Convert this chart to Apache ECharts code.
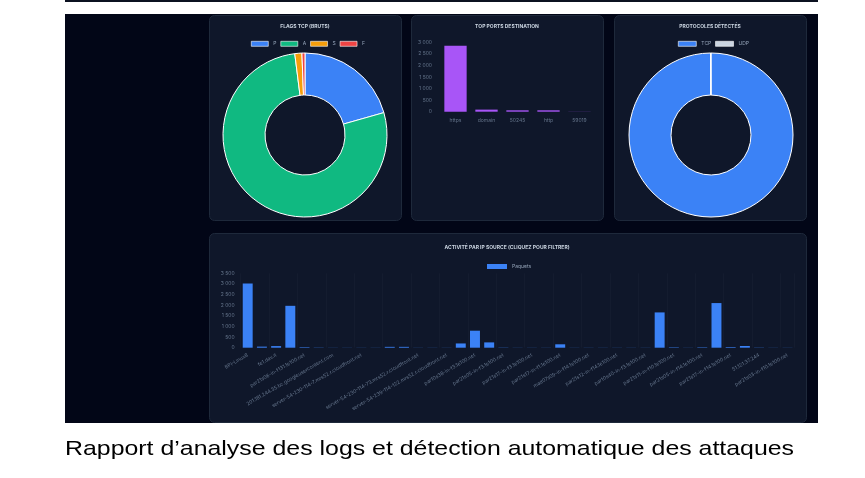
<!DOCTYPE html>
<html>
<head>
<meta charset="utf-8">
<script src="https://cdn.jsdelivr.net/npm/echarts@6/dist/echarts.min.js"></script>
<style>
    html, body { margin: 0; padding: 0; background: #fff; }
    #chart { width: 865px; height: 478px; }
</style>
</head>
<body>
<div id="chart"></div>
<script>
    const flagNames = ['P', 'A', 'S', 'F'];
    const flagValues = [620, 2330, 42, 18];
    const flagColors = ['#3b82f6', '#10b981', '#f59e0b', '#ef4444'];

    const portNames = ['https', 'domain', '50245', 'http', '59019'];
    const portValues = [2850, 90, 60, 60, 5];

    const protoNames = ['TCP', 'UDP'];
    const protoValues = [3005, 3];
    const protoColors = ['#3b82f6', '#cbd5e1'];

    const ipNames = [
        'BPI-Linux8', '192.168.1.1', 'fe1.dav.it', '192.168.1.254',
        'par21s06-in-f131.1e100.net', 'par21s06-in-f3.1e100.net',
        '201.181.244.35.bc.googleusercontent.com', '34.107.243.93',
        'server-54-230-114-7.mrs52.r.cloudfront.net', 'server-54-230-114-50.mrs52.r.cloudfront.net',
        '', 'server-54-230-114-12.mrs52.r.cloudfront.net',
        'server-54-230-114-73.mrs52.r.cloudfront.net', 'server-54-230-114-95.mrs52.r.cloudfront.net',
        'server-54-239-114-122.mrs52.r.cloudfront.net', 'par10s38-in-f14.1e100.net',
        'par10s38-in-f3.1e100.net', 'par21s05-in-f10.1e100.net',
        'par21s05-in-f3.1e100.net', 'par21s17-in-f10.1e100.net',
        'par21s17-in-f3.1e100.net', 'par21s12-in-f3.1e100.net',
        'par21s17-in-f1.1e100.net', 'mad07s09-in-f3.1e100.net',
        'mad07s09-in-f14.1e100.net', 'par21s12-in-f10.1e100.net',
        'par21s12-in-f14.1e100.net', 'par10s40-in-f14.1e100.net',
        'par10s40-in-f3.1e100.net', 'par21s11-in-f14.1e100.net',
        'par21s11-in-f10.1e100.net', 'par21s05-in-f1.1e100.net',
        'par21s05-in-f14.1e100.net', 'par21s17-in-f4.1e100.net',
        'par21s17-in-f14.1e100.net', '51.121.37.242',
        '51.121.37.244', 'par21s03-in-f14.1e100.net',
        'par21s03-in-f10.1e100.net'
    ];
    const ipValues = [
        3020, 50, 75, 1970, 25, 10, 5, 5, 5, 5,
        40, 40, 5, 5, 5, 200, 800, 250, 10, 5,
        5, 5, 160, 5, 5, 5, 5, 5, 5, 1660,
        20, 5, 20, 2100, 30, 80, 10, 5, 5
    ];

    const caption = 'Rapport d’analyse des logs et détection automatique des attaques';

    const FONT = 'Inter, "Liberation Sans", sans-serif';
    const frNum = function (v) { return String(v).replace(/\B(?=(\d{3})+(?!\d))/g, ' '); };

    function panel (x, y, w, h) {
        return {
            type: 'rect', z: -10,
            shape: { x: x, y: y, width: w, height: h, r: 5 },
            style: { fill: '#0f172a', stroke: '#1e293b', lineWidth: 1 }
        };
    }

    const legendText = { color: '#94a3b8', fontSize: 5, fontFamily: FONT };
    const titleText = { color: '#cbd5e1', fontSize: 5, fontWeight: 'bold', fontFamily: FONT };
    const axisText = { color: '#64748b', fontSize: 5, fontFamily: FONT };

    const option = {
        animation: false,
        graphic: [
            { type: 'rect', z: -20, shape: { x: 65, y: 0, width: 753, height: 2 }, style: { fill: '#0b1120' } },
            { type: 'rect', z: -20, shape: { x: 65, y: 14, width: 753, height: 409 }, style: { fill: '#020617' } },
            panel(209.5, 15.5, 192, 205),
            panel(411.5, 15.5, 192, 205),
            panel(614.5, 15.5, 192, 205),
            panel(209.5, 233.5, 597, 189),
            {
                type: 'text', z: 10, x: 65, y: 449, scaleX: 1.185,
                style: { text: caption, fill: '#000', font: '21px "Liberation Sans", Arial, sans-serif', textVerticalAlign: 'middle' }
            }
        ],
        title: [
            { text: 'FLAGS TCP (BRUTS)', left: 305, top: 24, padding: 0, textAlign: 'center', textStyle: titleText },
            { text: 'TOP PORTS DESTINATION', left: 507, top: 24, padding: 0, textAlign: 'center', textStyle: titleText },
            { text: 'PROTOCOLES DÉTECTÉS', left: 710, top: 24, padding: 0, textAlign: 'center', textStyle: titleText },
            { text: 'ACTIVITÉ PAR IP SOURCE (CLIQUEZ POUR FILTRER)', left: 507, top: 245, padding: 0, textAlign: 'center', textStyle: titleText }
        ],
        legend: [
            {
                data: flagNames, left: 251, top: 41, padding: 0, itemWidth: 17, itemHeight: 5, itemGap: 4,
                icon: 'rect', textStyle: legendText, itemStyle: { borderColor: '#fff', borderWidth: 0.6 }
            },
            {
                data: protoNames, left: 678, top: 41, padding: 0, itemWidth: 18, itemHeight: 5, itemGap: 4,
                icon: 'rect', textStyle: legendText, itemStyle: { borderColor: '#fff', borderWidth: 0.6 }
            },
            {
                data: ['Paquets'], left: 487, top: 264, padding: 0, itemWidth: 20, itemHeight: 5,
                icon: 'rect', textStyle: legendText
            }
        ],
        grid: [
            { left: 440, top: 42.3, width: 155, height: 69.4 },
            { left: 240.6, top: 273.3, width: 554, height: 74.4 }
        ],
        xAxis: [
            {
                gridIndex: 0, type: 'category', data: portNames,
                axisLine: { show: false }, axisTick: { show: false },
                axisLabel: Object.assign({ margin: 6 }, axisText)
            },
            {
                gridIndex: 1, type: 'category', data: ipNames,
                axisLine: { show: false }, axisTick: { show: false },
                splitLine: { show: true, interval: 1, lineStyle: { color: 'rgba(255,255,255,0.025)', width: 1 } },
                axisLabel: Object.assign({ interval: 1, rotate: 30, margin: 7 }, axisText)
            }
        ],
        yAxis: [
            {
                gridIndex: 0, type: 'value', min: 0, max: 3000, interval: 500,
                axisLine: { show: false }, axisTick: { show: false },
                splitLine: { show: false },
                axisLabel: Object.assign({ margin: 8, formatter: frNum }, axisText)
            },
            {
                gridIndex: 1, type: 'value', min: 0, max: 3500, interval: 500,
                axisLine: { show: false }, axisTick: { show: false },
                splitLine: { show: false },
                axisLabel: Object.assign({ margin: 6, formatter: frNum }, axisText)
            }
        ],
        series: [
            {
                name: 'Flags', type: 'pie', center: [305, 135], radius: [40, 82],
                startAngle: 90, label: { show: false }, labelLine: { show: false },
                itemStyle: { borderColor: '#fff', borderWidth: 1 },
                data: flagNames.map(function (n, i) {
                    return { name: n, value: flagValues[i], itemStyle: { color: flagColors[i] } };
                })
            },
            {
                name: 'Protocoles', type: 'pie', center: [711, 135], radius: [40, 82],
                startAngle: 90, label: { show: false }, labelLine: { show: false },
                itemStyle: { borderColor: '#fff', borderWidth: 1 },
                data: protoNames.map(function (n, i) {
                    return { name: n, value: protoValues[i], itemStyle: { color: protoColors[i] } };
                })
            },
            {
                name: 'Ports', type: 'bar', xAxisIndex: 0, yAxisIndex: 0,
                barWidth: '72%', itemStyle: { color: '#a855f7' },
                data: portValues
            },
            {
                name: 'Paquets', type: 'bar', xAxisIndex: 1, yAxisIndex: 1,
                barWidth: '70%', itemStyle: { color: '#3b82f6' },
                data: ipValues
            }
        ]
    };

    let chart = echarts.init(document.getElementById('chart'));
    chart.setOption(option);
</script>
</body>
</html>
